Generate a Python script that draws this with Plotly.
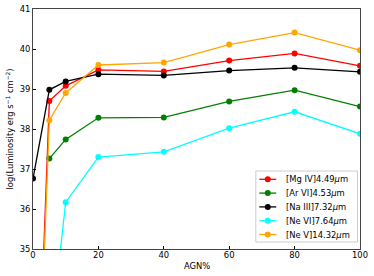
import plotly.graph_objects as go

agn = [0, 5, 10, 20, 40, 60, 80, 100]
mg_iv = [27.8, 38.70, 39.08, 39.48, 39.44, 39.71, 39.89, 39.58]
ar_vi = [None, 37.26, 37.74, 38.28, 38.29, 38.69, 38.97, 38.56]
na_iii = [36.76, 38.98, 39.19, 39.37, 39.34, 39.46, 39.53, 39.43]
ne_vi = [None, 32.5, 36.17, 37.30, 37.43, 38.02, 38.43, 37.88]
ne_v = [27.5, 38.22, 38.90, 39.60, 39.66, 40.11, 40.41, 39.97]

names = ["[Mg IV]4.49<i>μ</i>m", "[Ar VI]4.53<i>μ</i>m", "[Na III]7.32<i>μ</i>m",
         "[Ne VI]7.64<i>μ</i>m", "[Ne V]14.32<i>μ</i>m"]
series = [mg_iv, ar_vi, na_iii, ne_vi, ne_v]
colors = ["red", "green", "black", "cyan", "orange"]

W, H = 374, 276
L, R, T, B = 32.5, 13.5, 8.7, 27.3
PW, PH = W - L - R, H - T - B


def px(x):
    return (x - L) / PW


def py(y):
    return (H - B - y) / PH


fig = go.Figure()
for nm, ys, c in zip(names, series, colors):
    fig.add_trace(go.Scatter(x=agn, y=ys, name=nm, mode="lines+markers",
                             line=dict(color=c, width=1.3),
                             marker=dict(color=c, size=6),
                             connectgaps=False, cliponaxis=True,
                             showlegend=False))

axfont = dict(family="DejaVu Sans", size=8.4, color="black")

# custom compact legend (matplotlib-like)
shapes = [dict(type="rect", xref="paper", yref="paper",
               x0=px(256), x1=px(358), y0=py(241.7), y1=py(170.7),
               line=dict(color="#cccccc", width=1), fillcolor="white", layer="above")]
annotations = []
for i, (nm, c) in enumerate(zip(names, colors)):
    yc = 179 + i * 13.8
    shapes.append(dict(type="line", xref="paper", yref="paper",
                       x0=px(259.5), x1=px(276.5), y0=py(yc), y1=py(yc),
                       line=dict(color=c, width=1.3), layer="above"))
    r = 3
    shapes.append(dict(type="circle", xref="paper", yref="paper",
                       x0=px(268 - r), x1=px(268 + r), y0=py(yc + r), y1=py(yc - r),
                       line=dict(color=c, width=0), fillcolor=c, layer="above"))
    annotations.append(dict(text=nm, xref="paper", yref="paper", x=px(284), y=py(yc),
                            xanchor="left", yanchor="middle", showarrow=False,
                            font=axfont))

annotations.append(dict(text="AGN%", xref="paper", yref="paper", x=0.5, y=py(265.5),
                        xanchor="center", yanchor="middle", showarrow=False, font=axfont))
annotations.append(dict(text="log(Luminosity erg s<sup>−1</sup> cm<sup>−2</sup>)",
                        xref="paper", yref="paper", x=px(9), y=0.5, textangle=-90,
                        xanchor="center", yanchor="middle", showarrow=False, font=axfont))

fig.update_layout(
    width=W, height=H,
    margin=dict(l=L, r=R, t=T, b=B, autoexpand=False),
    paper_bgcolor="white", plot_bgcolor="white",
    font=axfont,
    showlegend=False,
    shapes=shapes,
    annotations=annotations,
    xaxis=dict(range=[0, 100], tickvals=[0, 20, 40, 60, 80, 100],
               ticks="inside", ticklen=3, tickcolor="black",
               showline=True, linecolor="#444444", linewidth=1, mirror=True,
               showgrid=False, zeroline=False, automargin=False,
               ticklabelstandoff=-2,
               tickfont=axfont),
    yaxis=dict(range=[35, 41], tickvals=[35, 36, 37, 38, 39, 40, 41],
               ticks="inside", ticklen=3, tickcolor="black",
               showline=True, linecolor="#444444", linewidth=1, mirror=True,
               showgrid=False, zeroline=False, automargin=False,
               tickfont=axfont),
)

fig.write_html("out.html", config={"displayModeBar": False},
               post_script="document.body.style.margin='0';")
